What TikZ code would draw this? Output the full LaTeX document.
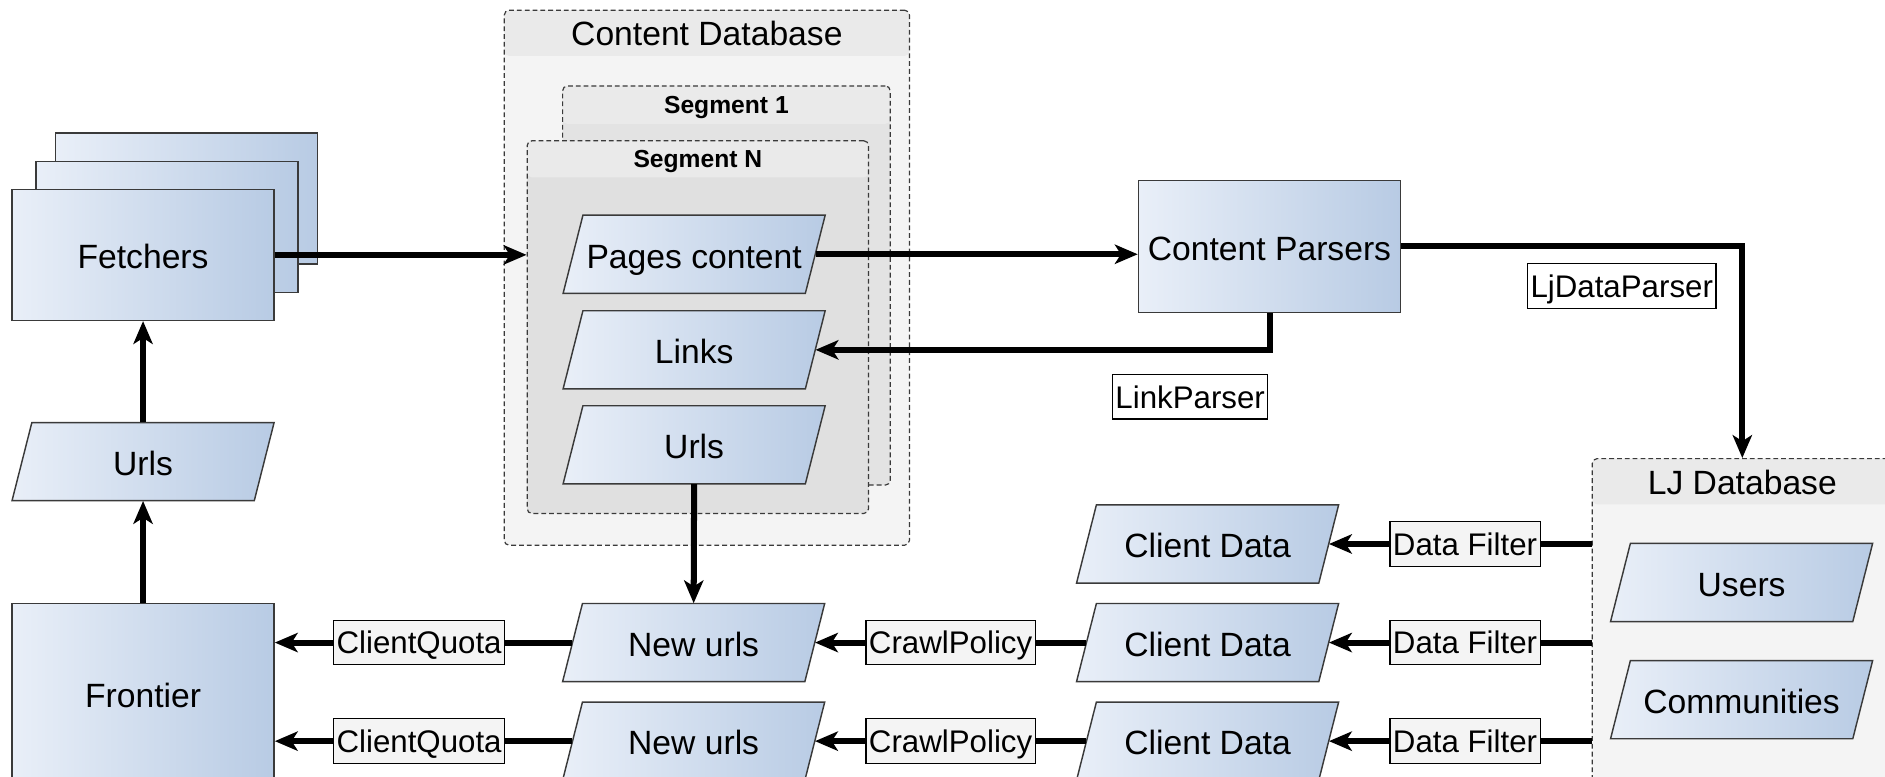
\documentclass[tikz,border=0pt]{standalone}
\usepackage{fontspec}
\setmainfont{Liberation Sans}
\usetikzlibrary{arrows.meta,calc}

\definecolor{gradL}{HTML}{E9EFF8}
\definecolor{gradR}{HTML}{B8CBE4}
\definecolor{edge}{HTML}{3A3A3A}
\definecolor{dbBody}{HTML}{F4F4F4}
\definecolor{dbHead}{HTML}{EAEAEA}
\definecolor{segOneBody}{HTML}{E3E3E3}
\definecolor{segBody}{HTML}{E0E0E0}
\definecolor{segHead}{HTML}{EAEAEA}
\definecolor{tagFill}{HTML}{F4F4F4}

\newcommand\diagfont{\fontsize{28}{32}\selectfont}
\newcommand\tagfont{\fontsize{26}{30}\selectfont}
\newcommand\segfont{\fontsize{20.5}{24}\selectfont\bfseries}

% data object: slanted box drawn behind a named text node
\newcommand\dataobj[3]{%
  \draw[dataframe] ($(#2)+(-109,32.5)$) -- ($(#2)+(-92.5,-32.5)$)
     -- ($(#2)+(109,-32.5)$) -- ($(#2)+(92.5,32.5)$) -- cycle;
  \node[datatext] (#1) at (#2) {#3};
}

\tikzset{
  proc/.style={draw=edge, line width=1.2pt, left color=gradL, right color=gradR,
    minimum width=218pt, minimum height=109pt, inner sep=0pt, font=\diagfont,
    text height=23pt, text depth=0pt},
  dataframe/.style={draw=edge, line width=1.2pt, left color=gradL, right color=gradR},
  datatext/.style={minimum width=201.5pt, minimum height=65pt, inner sep=0pt, font=\diagfont,
    text height=23pt, text depth=0pt},
  dbox/.style={draw=edge, line width=1pt, dash pattern=on 4pt off 2.5pt,
    rounded corners=4pt, inner sep=0pt, anchor=north west},
  hdr/.style 2 args={path picture={\fill[#1] (path picture bounding box.north west)
    rectangle ([yshift=-#2]path picture bounding box.north east);}},
  title/.style={font=\diagfont, inner sep=0pt},
  segtitle/.style={font=\segfont, inner sep=0pt},
  tag/.style={draw=black, line width=0.9pt, fill=tagFill, font=\tagfont,
    inner xsep=2.5pt, inner ysep=0pt, minimum height=37pt, text height=19pt, text depth=0pt},
  wtag/.style={tag, fill=white},
  flow/.style={line width=5pt, -{Stealth[length=19pt,width=16pt,inset=5pt]}},
}

\begin{document}
\begin{tikzpicture}[x=1pt, y=-1pt]
\useasboundingbox (0,0) rectangle (1568,646);
\clip (0,0) rectangle (1568,646);

% containers
\node[dbox, fill=dbBody, hdr={dbHead}{38pt}, minimum width=337pt, minimum height=445pt] (cdb) at (419,8) {};
\node[title] (cdbT) at ([yshift=-20pt]cdb.north) {Content Database};
\node[dbox, fill=segOneBody, hdr={segHead}{31.5pt}, minimum width=272.5pt, minimum height=332pt] (seg1) at (467.5,71) {};
\node[segtitle] (seg1T) at ([yshift=-18.5pt]seg1.north) {Segment 1};
\node[dbox, fill=segBody, hdr={segHead}{30.5pt}, minimum width=284pt, minimum height=310pt] (segN) at (438,116.6) {};
\node[segtitle] (segNT) at ([yshift=-18pt]segN.north) {Segment N};
\node[dbox, fill=dbBody, hdr={dbHead}{38pt}, minimum width=249.6pt, minimum height=300pt] (ljdb) at (1324,381) {};
\node[title] (ljdbT) at ([yshift=-20.5pt]ljdb.north) {LJ Database};

% fetchers stack
\node[proc] (fetchC) at (155,165) {};
\node[proc] (fetchB) at (139,189) {};
\node[proc] (fetch) at (119,212) {Fetchers};

% processes
\node[proc, minimum height=150pt] (frontier) at (119,577) {Frontier};
\node[proc, minimum height=109.5pt] (cparse) at (1056,205) {Content Parsers};

% data objects
\dataobj{urlsL}{119,384}{Urls}
\dataobj{pages}{577.4,211.5}{Pages content}
\dataobj{links}{577.4,291}{Links}
\dataobj{urlsIn}{577.4,370}{Urls}
\dataobj{newA}{577,534.5}{New urls}
\dataobj{newB}{577,616.5}{New urls}
\dataobj{cdA}{1004.5,452.5}{Client Data}
\dataobj{cdB}{1004.5,534.5}{Client Data}
\dataobj{cdC}{1004.5,616.5}{Client Data}
\dataobj{users}{1448.7,484.5}{Users}
\dataobj{comm}{1448.7,582}{Communities}

% connectors
\draw[flow] (fetch.east) -- (fetch.east -| segN.west);
\draw[flow] (urlsL.north) -- (fetch.south);
\draw[flow] (frontier.north) -- (urlsL.south);
\draw[flow] (pages.east) -- (pages.east -| cparse.west);
\draw[flow] (cparse.south) |- (links.east);
\draw[flow] (cparse.east) -| (ljdb.north);
\draw[flow] (urlsIn.south) -- (newA.north);

\draw[flow] (newA.west) -- node[tag, pos=0.515] (cqA) {ClientQuota} (newA.west -| frontier.east);
\draw[flow] (newB.west) -- node[tag, pos=0.515] (cqB) {ClientQuota} (newB.west -| frontier.east);
\draw[flow] (cdB.west) -- node[tag, pos=0.5] (cpA) {CrawlPolicy} (newA.east);
\draw[flow] (cdC.west) -- node[tag, pos=0.5] (cpB) {CrawlPolicy} (newB.east);
\draw[flow] (cdA.east -| ljdb.west) -- node[tag, pos=0.482] (dfA) {Data Filter} (cdA.east);
\draw[flow] (cdB.east -| ljdb.west) -- node[tag, pos=0.482] (dfB) {Data Filter} (cdB.east);
\draw[flow] (cdC.east -| ljdb.west) -- node[tag, pos=0.482] (dfC) {Data Filter} (cdC.east);

% parser labels
\node[wtag] (linkP) at (990,330) {LinkParser};
\node[wtag] (ljP) at (1349,238) {LjDataParser};
\end{tikzpicture}
\end{document}
